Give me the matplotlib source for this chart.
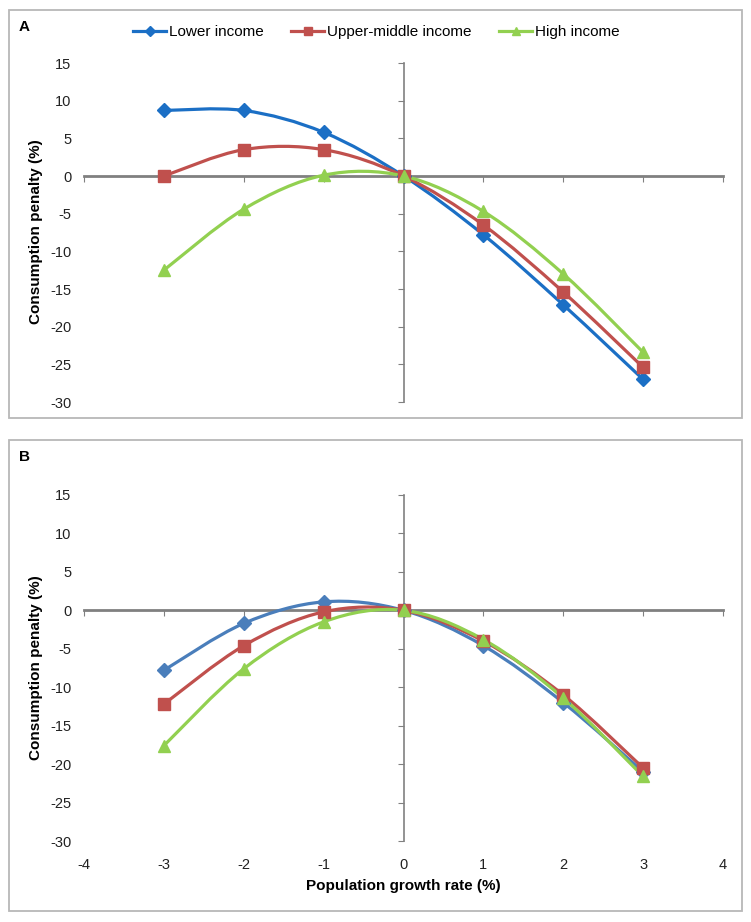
import numpy as np
import matplotlib.pyplot as plt
from matplotlib.path import Path
from matplotlib.patches import PathPatch, Rectangle
from matplotlib.lines import Line2D

plt.rcParams['font.family'] = ['Liberation Sans', 'DejaVu Sans']
plt.rcParams['axes.unicode_minus'] = False

# dados
growth = [-3, -2, -1, 0, 1, 2, 3]
series_names = ['Lower income', 'Upper-middle income', 'High income']

# painel A
a_lower = [8.7, 8.7, 5.8, 0.0, -7.8, -17.1, -27.0]
a_upper = [0.0, 3.5, 3.5, 0.0, -6.5, -15.4, -25.4]
a_high = [-12.5, -4.4, 0.1, 0.0, -4.7, -13.0, -23.4]

# painel B
b_lower = [-7.8, -1.7, 1.1, 0.0, -4.6, -12.0, -21.0]
b_upper = [-12.2, -4.6, -0.2, 0.0, -4.0, -11.0, -20.5]
b_high = [-17.6, -7.6, -1.5, 0.0, -3.8, -11.4, -21.6]

y_ticks = [15, 10, 5, 0, -5, -10, -15, -20, -25, -30]
x_ticks = [-4, -3, -2, -1, 0, 1, 2, 3, 4]

colors_a = ['#1b6fc5', '#c0504d', '#92d050']
colors_b = ['#4a7ebb', '#c0504d', '#92d050']
markers = ['D', 's', '^']
msizes = [7, 8, 8]
axis_gray = '#808080'
tick_font = ['Liberation Sans Narrow', 'Liberation Sans']


def smooth_path(x, y):
    # curva suave estilo Excel (Bezier / Catmull-Rom)
    pts = np.column_stack([x, y]).astype(float)
    n = len(pts)
    verts = [pts[0]]
    codes = [Path.MOVETO]
    for i in range(n - 1):
        p0 = pts[max(i - 1, 0)]
        p1 = pts[i]
        p2 = pts[i + 1]
        p3 = pts[min(i + 2, n - 1)]
        c1 = p1 + (p2 - p0) / 6.0
        c2 = p2 - (p3 - p1) / 6.0
        verts += [c1, c2, p2]
        codes += [Path.CURVE4] * 3
    return Path(verts, codes)


def draw_panel(ax, data, colors, show_x):
    for vals, c, m, ms in zip(data, colors, markers, msizes):
        ax.add_patch(PathPatch(smooth_path(growth, vals), fill=False,
                               edgecolor=c, lw=2.3, zorder=3,
                               capstyle='round', joinstyle='round'))
        ax.plot(growth, vals, linestyle='none', marker=m, ms=ms,
                color=c, zorder=4)

    ax.set_xlim(-4, 4)
    ax.set_ylim(-30, 15)
    for s in ['top', 'right']:
        ax.spines[s].set_visible(False)
    ax.spines['left'].set_position(('data', 0))
    ax.spines['bottom'].set_position(('data', 0))
    ax.spines['left'].set_color(axis_gray)
    ax.spines['bottom'].set_color(axis_gray)
    ax.spines['left'].set_linewidth(1.2)
    ax.spines['bottom'].set_linewidth(2.0)
    ax.set_xticks(x_ticks)
    ax.set_yticks(y_ticks)
    ax.tick_params(direction='out', length=4, color=axis_gray,
                   labelleft=False, labelbottom=False)

    sy = ax.secondary_yaxis('left')
    sy.spines['left'].set_visible(False)
    sy.set_yticks(y_ticks)
    sy.tick_params(length=0, pad=9)
    for t in sy.get_yticklabels():
        t.set_family(tick_font)
        t.set_fontsize(10.5)
        t.set_color('#222222')

    if show_x:
        sx = ax.secondary_xaxis('bottom')
        sx.spines['bottom'].set_visible(False)
        sx.set_xticks(x_ticks)
        sx.tick_params(length=0, pad=12)
        for t in sx.get_xticklabels():
            t.set_family(tick_font)
            t.set_fontsize(10.5)
            t.set_color('#222222')


W, H = 751, 922
fig = plt.figure(figsize=(W / 100, H / 100), dpi=100)

ax_a = fig.add_axes([84 / W, 1 - 402 / H, 639 / W, 339 / H])
ax_b = fig.add_axes([84 / W, 1 - 841 / H, 639 / W, 346 / H])

draw_panel(ax_a, [a_lower, a_upper, a_high], colors_a, False)
draw_panel(ax_b, [b_lower, b_upper, b_high], colors_b, True)

# molduras dos painéis
for top, bottom in [(10, 418), (440, 911)]:
    fig.add_artist(Rectangle((9 / W, 1 - bottom / H), 733 / W,
                             (bottom - top) / H, transform=fig.transFigure,
                             fill=False, edgecolor='#b8b8b8', lw=1.3))

fig.text(19 / W, 1 - 27 / H, 'A', fontsize=11, fontweight='bold', va='center')
fig.text(19 / W, 1 - 457 / H, 'B', fontsize=11, fontweight='bold', va='center')

for yc in [232, 668]:
    fig.text(36 / W, 1 - yc / H, 'Consumption penalty (%)', rotation=90,
             fontsize=11, fontweight='bold', ha='center', va='center')

fig.text(403 / W, 1 - 886 / H, 'Population growth rate (%)',
         fontsize=11, fontweight='bold', ha='center', va='center')

handles = [Line2D([], [], color=c, lw=2.3, marker=m, ms=ms * 0.8)
           for c, m, ms in zip(colors_a, markers, msizes)]
fig.legend(handles, series_names, loc='center', ncol=3, frameon=False,
           bbox_to_anchor=(376 / W, 1 - 32 / H), fontsize=11,
           handlelength=2.2, handletextpad=0.15, columnspacing=1.8)

plt.savefig('out.png', dpi=100)
